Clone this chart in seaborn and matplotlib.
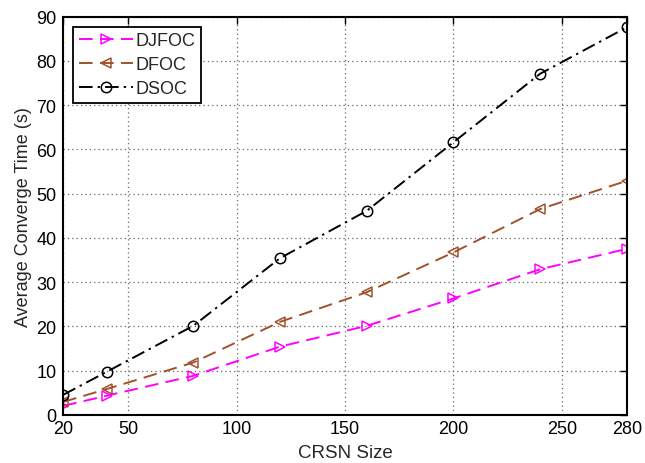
import matplotlib
matplotlib.use("Agg")
import matplotlib.pyplot as plt
import seaborn as sns
import pandas as pd

crsn_size = [20, 40, 80, 120, 160, 200, 240, 280]
djfoc = [2.0, 4.3, 8.8, 15.4, 20.1, 26.3, 32.9, 37.5]
dfoc = [2.9, 5.8, 11.8, 21.0, 27.7, 36.7, 46.5, 52.9]
dsoc = [4.5, 9.7, 20.1, 35.4, 46.1, 61.6, 77.1, 87.6]
x_ticks = [20, 50, 100, 150, 200, 250, 280]
y_ticks = [0, 10, 20, 30, 40, 50, 60, 70, 80, 90]

sns.set_style("white")
plt.rcParams['font.family'] = ['Liberation Sans', 'DejaVu Sans']

fig = plt.figure(figsize=(6.45, 4.64), dpi=100)
ax = fig.add_axes([0.098, 0.104, 0.874, 0.858])

series = [
    ("DJFOC", djfoc, "#ff00ff", (0, (7.0, 3.8)), ">"),
    ("DFOC", dfoc, "#a0522d", (0, (7.0, 3.8)), "<"),
    ("DSOC", dsoc, "black", (0, (7.0, 2.6, 1.2, 2.6)), "o"),
]
for name, vals, col, ls, mk in series:
    df = pd.DataFrame({"x": crsn_size, "y": vals})
    sns.lineplot(data=df, x="x", y="y", ax=ax, color=col, linestyle=ls,
                 marker=mk, markersize=7.5, markerfacecolor="none",
                 markeredgecolor=col, markeredgewidth=1.1, linewidth=1.4,
                 label=name)

ax.set_xlim(20, 280)
ax.set_ylim(0, 90)
ax.set_xticks(x_ticks)
ax.set_yticks(y_ticks)
ax.grid(True, linestyle=(0, (1, 2.5)), color="#666666", linewidth=0.9)
ax.tick_params(direction="in", length=5, width=1.0, top=True, right=True,
               labelsize=13, colors="black")
ax.tick_params(axis="x", pad=4)
ax.tick_params(axis="y", pad=5)
for s in ax.spines.values():
    s.set_visible(True)
    s.set_color("black")
    s.set_linewidth(1.5)
ax.set_xlabel("CRSN Size", fontsize=13.5, labelpad=5)
ax.set_ylabel("Average Converge Time (s)", fontsize=13, labelpad=3)

leg = ax.legend(loc="upper left", bbox_to_anchor=(0.018, 0.975), fontsize=13,
                frameon=True, fancybox=False, edgecolor="black",
                handlelength=3.0, handletextpad=0.15, borderpad=0.3,
                labelspacing=0.4, borderaxespad=0.0)
leg.get_frame().set_linewidth(1.3)
leg.get_frame().set_alpha(1)

fig.savefig("out.png", dpi=100)
